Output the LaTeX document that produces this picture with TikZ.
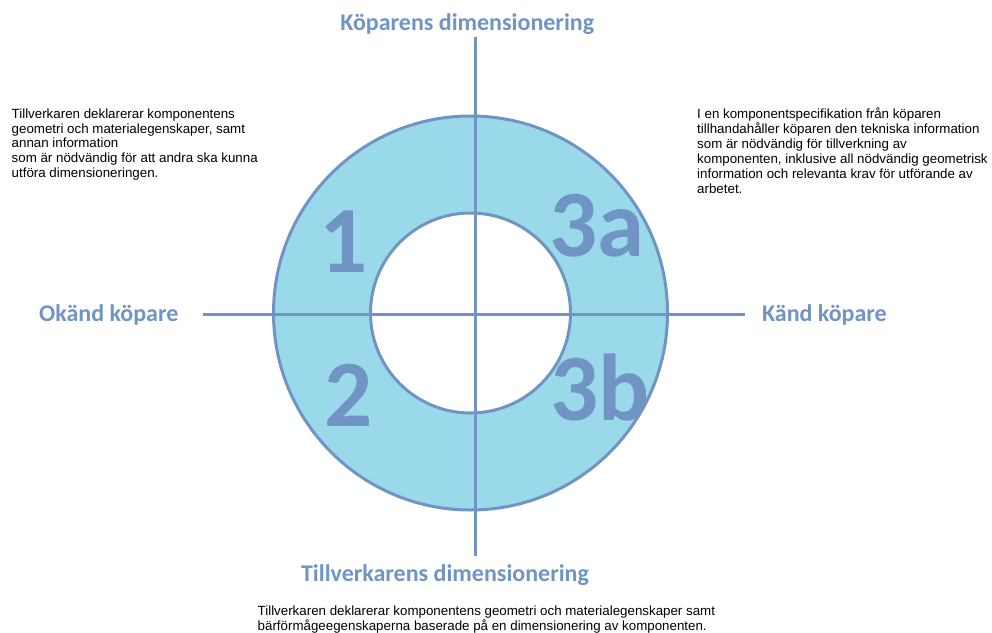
\documentclass[tikz,border=0pt]{standalone}
\usepackage{fontspec}
\setmainfont{Liberation Sans}
\newfontfamily\headfont{Carlito}
\definecolor{axisblue}{RGB}{112,148,196}
\definecolor{ringfill}{RGB}{154,217,234}
\tikzset{
  axisline/.style={draw=axisblue, line width=3pt},
  ringline/.style={draw=axisblue, line width=3pt},
  heading/.style={text=axisblue, inner sep=0pt, anchor=base, font=\headfont\bfseries\fontsize{24}{28}\selectfont},
  bignum/.style={text=axisblue, inner sep=0pt, anchor=base, font=\headfont\bfseries\fontsize{95}{100}\selectfont},
  bodytext/.style={text=black, inner sep=0pt, anchor=base west, font=\fontsize{13.33}{14.7}\selectfont},
}
\begin{document}
\begin{tikzpicture}[x=1pt,y=-1pt]
\useasboundingbox (0,0) rectangle (992,632);
% geometry
\coordinate (C) at (470.5,313);
\coordinate (vtop) at (475.5,37);
\coordinate (vbot) at (475.5,556);
\coordinate (hleft) at (203,314.3);
\coordinate (hright) at (745,314.3);
% ring
\fill[ringfill, even odd rule] (C) circle[radius=197] (C) circle[radius=100];
\draw[ringline] (C) circle[radius=197];
\draw[ringline] (C) circle[radius=100];
% axes
\draw[axisline] (vtop) -- (vbot);
\draw[axisline] (hleft) -- (hright);
% headings
\node[heading] (hTop) at (467.2,30) {Köparens dimensionering};
\node[heading] (hBot) at (445,581.7) {Tillverkarens dimensionering};
\node[heading] (hLeft) at (108.7,321) {Okänd köpare};
\node[heading] (hRight) at (824.4,321) {Känd köpare};
% big numbers
\node[bignum] (n1) at (343.5,272) {1};
\node[bignum] (n2) at (349,426.7) {2};
\node[bignum] (n3a) at (596.7,256.7) {3a};
\node[bignum] (n3b) at (600,420) {3b};
% body texts
\node[bodytext] (tLeft) at (11.5,118.3) {\begin{tabular}[t]{@{}l@{}}Tillverkaren deklarerar komponentens\\geometri och materialegenskaper, samt\\annan information\\som är nödvändig för att andra ska kunna\\utföra dimensioneringen.\end{tabular}};
\node[bodytext, font=\fontsize{13.33}{14.9}\selectfont] (tRight) at (697,118.3) {\begin{tabular}[t]{@{}l@{}}I en komponentspecifikation från köparen\\tillhandahåller köparen den tekniska information\\som är nödvändig för tillverkning av\\komponenten, inklusive all nödvändig geometrisk\\information och relevanta krav för utförande av\\arbetet.\end{tabular}};
\node[bodytext, font=\fontsize{13.33}{14}\selectfont] (tBot) at (257.5,615.5) {\begin{tabular}[t]{@{}l@{}}Tillverkaren deklarerar komponentens geometri och materialegenskaper samt\\bärförmågeegenskaperna baserade på en dimensionering av komponenten.\end{tabular}};
\end{tikzpicture}
\end{document}
